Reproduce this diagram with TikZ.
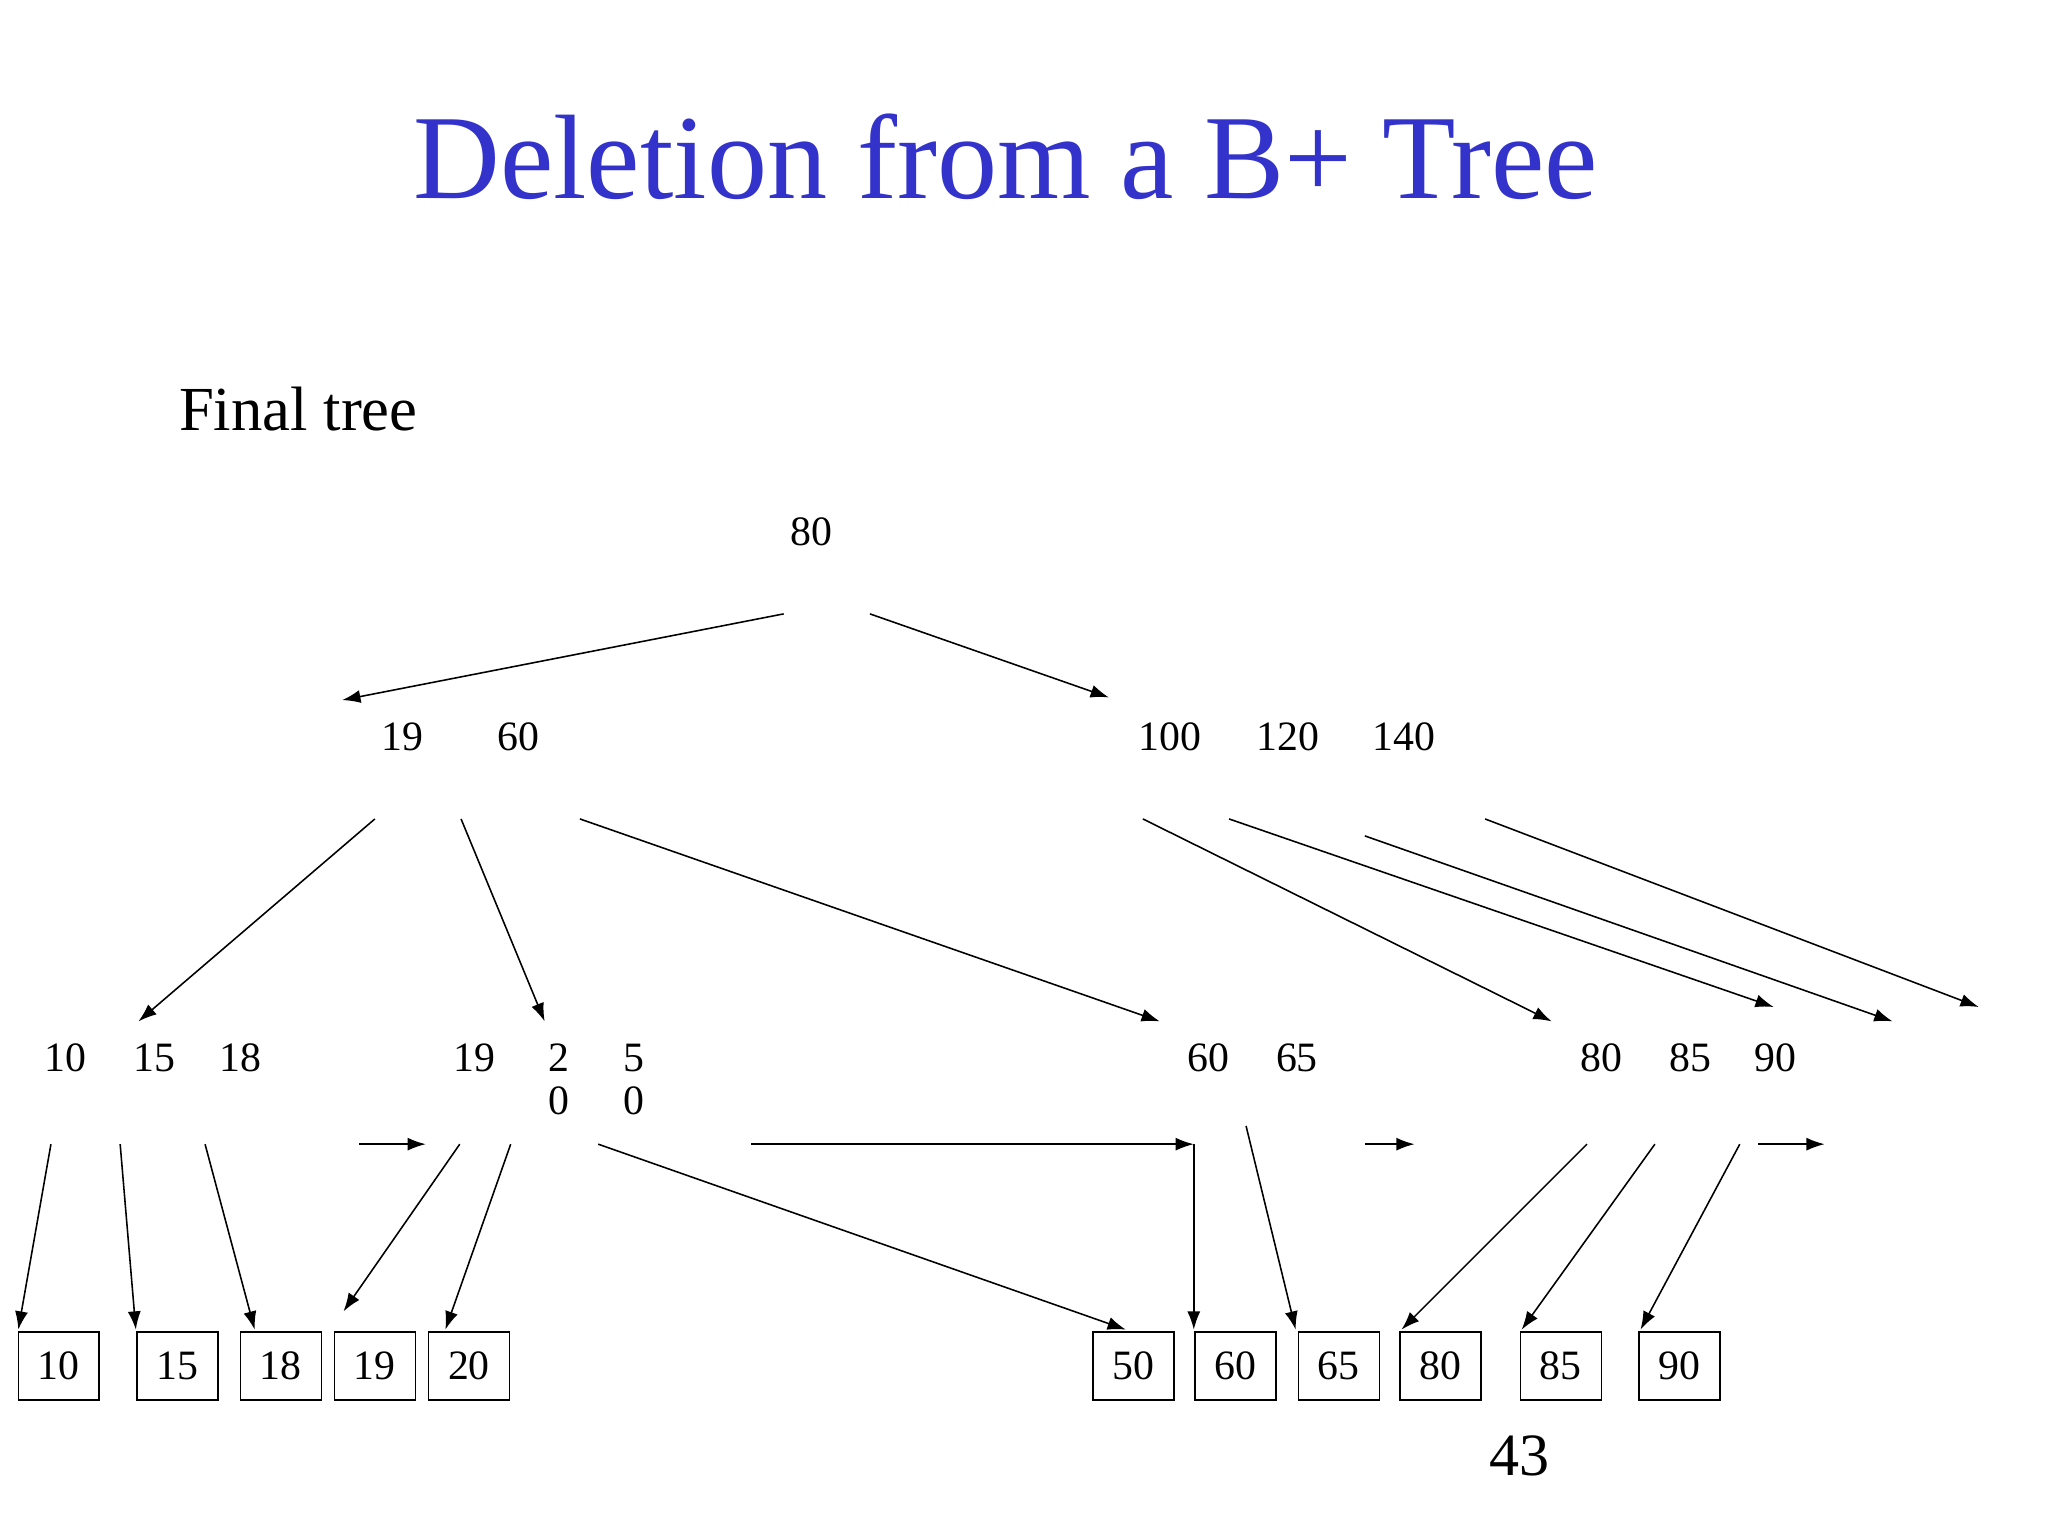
\documentclass[tikz,border=0pt]{standalone}
\usepackage{fontspec}
\setmainfont{Liberation Serif}
\usetikzlibrary{arrows.meta}
\definecolor{titleblue}{RGB}{51,51,204}
\begin{document}
\begin{tikzpicture}[x=0.5pt,y=-0.5pt,
  arr/.style={-{Latex[length=7pt,width=5pt]},line width=0.6pt},
  num/.style={font=\fontsize{16}{18}\selectfont,inner sep=0pt},
  leaf/.style={draw,line width=0.6pt,minimum width=31pt,minimum height=26pt,inner sep=0pt,font=\fontsize{16}{18}\selectfont}]
\useasboundingbox[fill=white] (0,0) rectangle (1568,1176);
\node[text=titleblue,font=\fontsize{46}{50}\selectfont] (title) at (770,120) {Deletion from a B+ Tree};
\node[anchor=west,font=\fontsize{24}{28}\selectfont] (ft) at (130,313) {Final tree};
\node[font=\fontsize{23}{26}\selectfont] (pg) at (1163,1115) {43};
% internal keys
\foreach \t/\x/\y/\n in {80/621/407/r, 19/308/564/a1, 60/397/564/a2, 100/896/564/b1, 120/986/564/b2, 140/1075/564/b3,
  10/50/810/c1, 15/118/810/c2, 18/184/810/c3, 19/363/810/d1, 2/428/810/d2, 0/428/843/d3, 5/485/810/d4, 0/485/843/d5,
  60/925/810/e1, 65/993/810/e2, 80/1226/810/f1, 85/1294/810/f2, 90/1359/810/f3}
  \node[num] (\n) at (\x,\y) {\t};
% leaves
\foreach \t/\x/\n in {10/45/l1, 15/136/l2, 18/215/l3, 19/287/l4, 20/359/l5, 50/868/l6, 60/946/l7, 65/1025/l8, 80/1103/l9, 85/1195/l10, 90/1286/l11}
  \node[leaf] (\n) at (\x,1046) {\t};
% arrows
\foreach \a/\b/\c/\d in {600/470/262/536, 666/470/849/534, 287/627/106/782, 353/627/417/782, 444/627/888/782,
  875/627/1188/782, 941/627/1358/771, 1045/640/1449/782, 1137/627/1515/771,
  39/876/14/1018, 92/876/104/1018, 157/876/195/1018, 275/876/326/876, 352/876/263/1004, 391/876/341/1018,
  458/876/862/1018, 575/876/914/876, 914/876/914/1018, 954/862/992/1018, 1045/876/1083/876,
  1215/876/1073/1018, 1267/876/1165/1018, 1332/876/1256/1018, 1346/876/1397/876}
  \draw[arr] (\a,\b) -- (\c,\d);
\end{tikzpicture}
\end{document}
